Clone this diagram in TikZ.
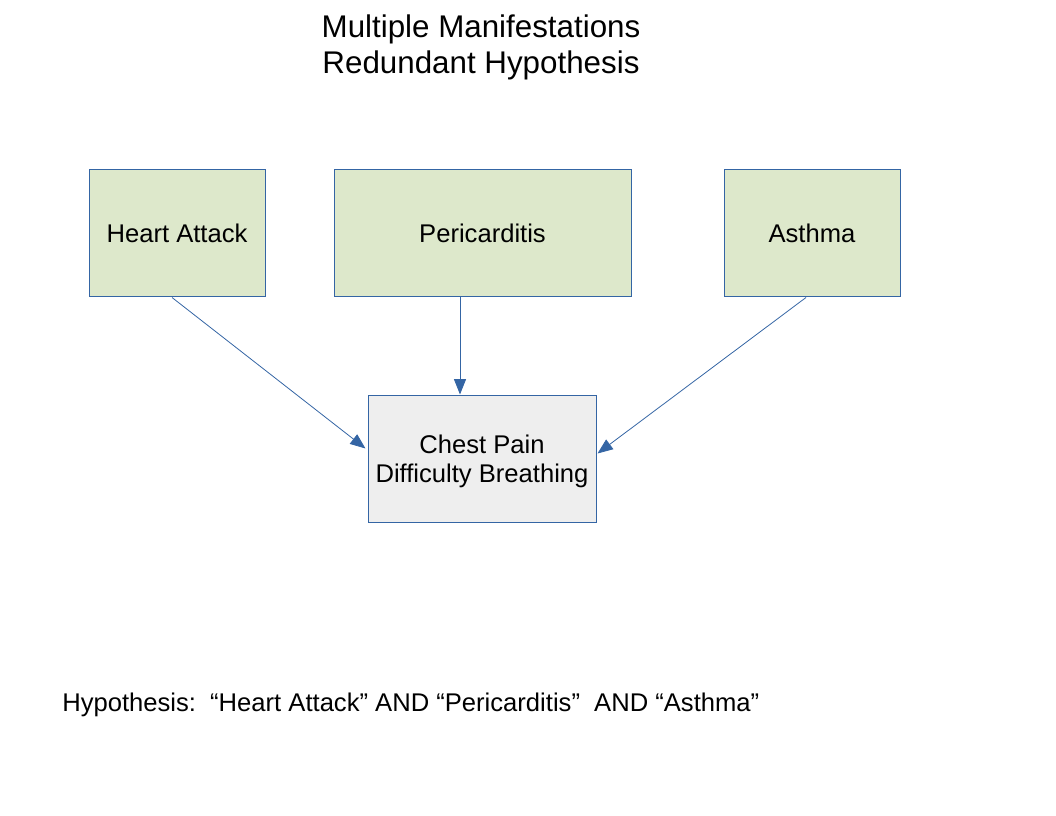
\documentclass[tikz,border=0pt]{standalone}
\usepackage{fontspec}
\setmainfont{Liberation Sans}
\usetikzlibrary{arrows.meta,calc}
\definecolor{boxgreen}{HTML}{DDE8CB}
\definecolor{boxgray}{HTML}{EEEEEE}
\definecolor{edgeblue}{HTML}{3465A4}
\tikzset{
  causebox/.style={draw=edgeblue, line width=0.75pt, fill=boxgreen, inner sep=0pt,
    minimum height=95.25pt, align=center, font=\fontsize{19.2}{21.75}\selectfont},
  effectbox/.style={draw=edgeblue, line width=0.75pt, fill=boxgray, inner sep=0pt,
    minimum width=171pt, minimum height=95.25pt, align=center, font=\fontsize{19.2}{21.75}\selectfont},
  link/.style={draw=edgeblue, line width=0.6pt, -{Triangle[length=11.5pt,width=9pt]}},
}
\begin{document}
\begin{tikzpicture}[x=0.75pt,y=-0.75pt]
\useasboundingbox (0,0) rectangle (1056,816);
\node[font=\fontsize{23.5}{27}\selectfont, align=center] (title) at (481,47.5)
  {Multiple Manifestations\\Redundant Hypothesis};
\node[causebox, minimum width=132pt] (ha) at (177,233.5) {Heart Attack};
\node[causebox, minimum width=222.75pt] (pe) at (482.5,233.5) {Pericarditis};
\node[causebox, minimum width=132pt] (as) at (812,233.5) {Asthma};
\node[effectbox] (ch) at (482,458.5) {\rule{0pt}{18.5pt}Chest Pain\\Difficulty Breathing};
\draw[link] ($(ha.south)+(-5,0)$) -- ($(ch.west)+(-2,-10)$);
\draw[link] ($(pe.south)+(-22.5,0)$) -- ($(ch.north)+(-22,0)$);
\draw[link] ($(as.south)+(-6,0)$) -- ($(ch.east)+(1,-5)$);
\node[anchor=west, inner sep=0pt, font=\fontsize{19.2}{22}\selectfont] (hyp) at (62,705)
  {Hypothesis:\ \ “Heart Attack” AND “Pericarditis”\ \ AND “Asthma”};
\end{tikzpicture}
\end{document}
